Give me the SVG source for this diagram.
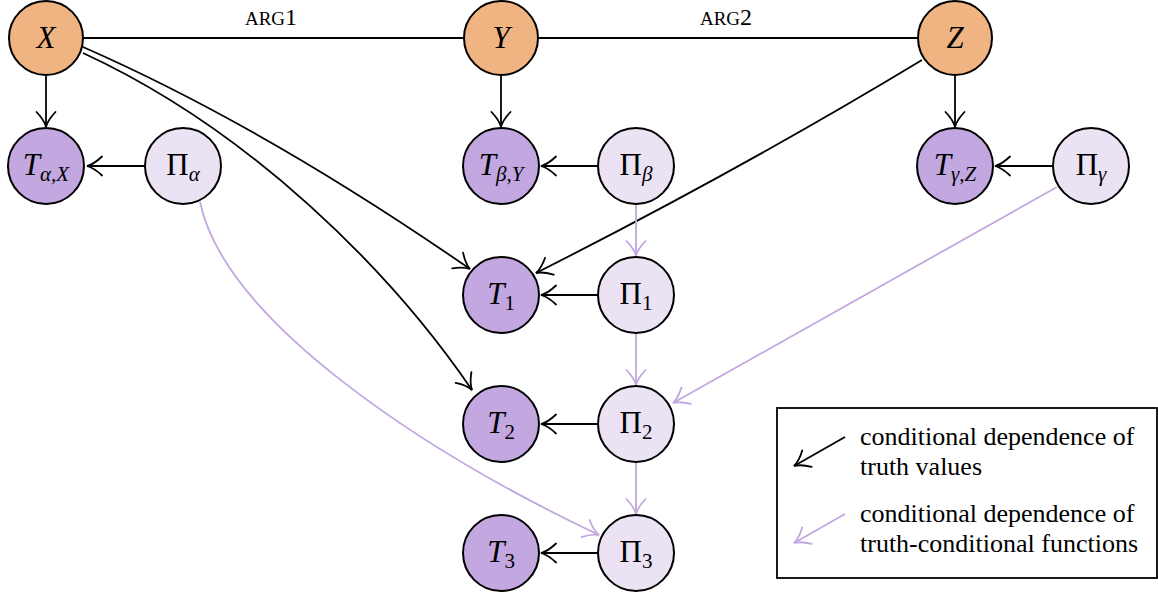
<svg xmlns="http://www.w3.org/2000/svg" width="1158" height="594" viewBox="0 0 1158 594">
<style>
.bg{fill:#ffffff}
.var{fill:#F0B482;stroke:#000;stroke-width:2}
.tv{fill:#C3A7E0;stroke:#000;stroke-width:2}
.pi{fill:#EBE2F4;stroke:#000;stroke-width:2}
.lbl{font-family:"Liberation Serif","Times New Roman",serif;font-size:31px;fill:#000;text-anchor:middle}
.it{font-style:italic}
.sub{font-size:21px}
.e{fill:none;stroke:#000;stroke-width:1.8}
.p{fill:none;stroke:#C3A7E0;stroke-width:1.8}
.ar{marker-end:url(#ah)}
.arp{marker-end:url(#ahp)}
.arg{font-family:"Liberation Serif","Times New Roman",serif;font-size:24px;fill:#000;text-anchor:middle}
.leg{font-family:"Liberation Serif","Times New Roman",serif;font-size:26px;fill:#000}
</style>
<defs>
<marker id="ah" viewBox="-17 -12 19 24" refX="0" refY="0" markerWidth="19" markerHeight="24" markerUnits="userSpaceOnUse" orient="auto">
<path d="M -15,-9.5 C -9,-3.8 -4,-1 0,0 C -4,1 -9,3.8 -15,9.5" fill="none" stroke="#000" stroke-width="1.8" stroke-linecap="round"/>
</marker>
<marker id="ahp" viewBox="-17 -12 19 24" refX="0" refY="0" markerWidth="19" markerHeight="24" markerUnits="userSpaceOnUse" orient="auto">
<path d="M -15,-9.5 C -9,-3.8 -4,-1 0,0 C -4,1 -9,3.8 -15,9.5" fill="none" stroke="#C3A7E0" stroke-width="1.8" stroke-linecap="round"/>
</marker>
</defs>
<rect class="bg" x="0" y="0" width="1158" height="594"/>

<g id="connectors">
<line class="e" x1="84" y1="38" x2="463" y2="38"/>
<line class="e" x1="539" y1="38" x2="917" y2="38"/>
<text class="arg" x="271" y="25"><tspan font-size="19">ARG</tspan>1</text>
<text class="arg" x="726" y="25"><tspan font-size="19">ARG</tspan>2</text>

<line class="e ar" x1="46" y1="76" x2="46" y2="127"/>
<line class="e ar" x1="501" y1="76" x2="501" y2="127"/>
<line class="e ar" x1="955" y1="76" x2="955" y2="127"/>

<line class="e ar" x1="145" y1="166" x2="87" y2="166"/>
<line class="e ar" x1="598" y1="166" x2="541" y2="166"/>
<line class="e ar" x1="1052" y1="166" x2="995" y2="166"/>
<line class="e ar" x1="598" y1="295" x2="541" y2="295"/>
<line class="e ar" x1="598" y1="424" x2="541" y2="424"/>
<line class="e ar" x1="598" y1="553" x2="541" y2="553"/>

<path class="e ar" d="M 83,47 C 213,104 340,179 470,269"/>
<path class="e ar" d="M 83,53 C 250,130 390,270 472,390"/>
<path class="e ar" d="M 922,60 Q 740,170 536,273"/>

<line class="p arp" x1="636" y1="205" x2="636" y2="256"/>
<line class="p arp" x1="636" y1="334" x2="636" y2="385"/>
<line class="p arp" x1="636" y1="463" x2="636" y2="514"/>
<line class="p arp" x1="1057" y1="187" x2="673" y2="403"/>
<path class="p arp" d="M 200,202 C 225,320 420,450 599,535"/>
</g>

<g id="node-X"><circle class="var" cx="46" cy="38" r="37"/><text class="lbl it" x="46" y="48">X</text></g>
<g id="node-Y"><circle class="var" cx="501" cy="38" r="37"/><text class="lbl it" x="501" y="48">Y</text></g>
<g id="node-Z"><circle class="var" cx="955" cy="38" r="37"/><text class="lbl it" x="955" y="48">Z</text></g>

<g id="node-TaX"><circle class="tv" cx="46" cy="166" r="38"/><text class="lbl" x="46" y="175"><tspan class="it">T</tspan><tspan class="sub it" dy="6">α,X</tspan></text></g>
<g id="node-Pa"><circle class="pi" cx="183" cy="166" r="38"/><text class="lbl" x="183" y="175">Π<tspan class="sub it" dy="6">α</tspan></text></g>
<g id="node-TbY"><circle class="tv" cx="501" cy="166" r="38"/><text class="lbl" x="501" y="175"><tspan class="it">T</tspan><tspan class="sub it" dy="6">β,Y</tspan></text></g>
<g id="node-Pb"><circle class="pi" cx="636" cy="166" r="38"/><text class="lbl" x="636" y="175">Π<tspan class="sub it" dy="6">β</tspan></text></g>
<g id="node-TgZ"><circle class="tv" cx="955" cy="166" r="38"/><text class="lbl" x="955" y="175"><tspan class="it">T</tspan><tspan class="sub it" dy="6">γ,Z</tspan></text></g>
<g id="node-Pg"><circle class="pi" cx="1091" cy="166" r="38"/><text class="lbl" x="1091" y="175">Π<tspan class="sub it" dy="6">γ</tspan></text></g>

<g id="node-T1"><circle class="tv" cx="501" cy="295" r="38"/><text class="lbl" x="501" y="304"><tspan class="it">T</tspan><tspan class="sub" dy="6">1</tspan></text></g>
<g id="node-P1"><circle class="pi" cx="636" cy="295" r="38"/><text class="lbl" x="636" y="304">Π<tspan class="sub" dy="6">1</tspan></text></g>
<g id="node-T2"><circle class="tv" cx="501" cy="424" r="38"/><text class="lbl" x="501" y="433"><tspan class="it">T</tspan><tspan class="sub" dy="6">2</tspan></text></g>
<g id="node-P2"><circle class="pi" cx="636" cy="424" r="38"/><text class="lbl" x="636" y="433">Π<tspan class="sub" dy="6">2</tspan></text></g>
<g id="node-T3"><circle class="tv" cx="501" cy="553" r="38"/><text class="lbl" x="501" y="562"><tspan class="it">T</tspan><tspan class="sub" dy="6">3</tspan></text></g>
<g id="node-P3"><circle class="pi" cx="636" cy="553" r="38"/><text class="lbl" x="636" y="562">Π<tspan class="sub" dy="6">3</tspan></text></g>

<g id="legend">
<rect x="777" y="408" width="380" height="170" fill="#fff" stroke="#000" stroke-width="1.8"/>
<line class="e ar" x1="845" y1="437" x2="794" y2="466"/>
<line class="p arp" x1="845" y1="514" x2="794" y2="543"/>
<text class="leg" x="860" y="445">conditional dependence of</text>
<text class="leg" x="860" y="475">truth values</text>
<text class="leg" x="860" y="522">conditional dependence of</text>
<text class="leg" x="860" y="552">truth-conditional functions</text>
</g>
</svg>
